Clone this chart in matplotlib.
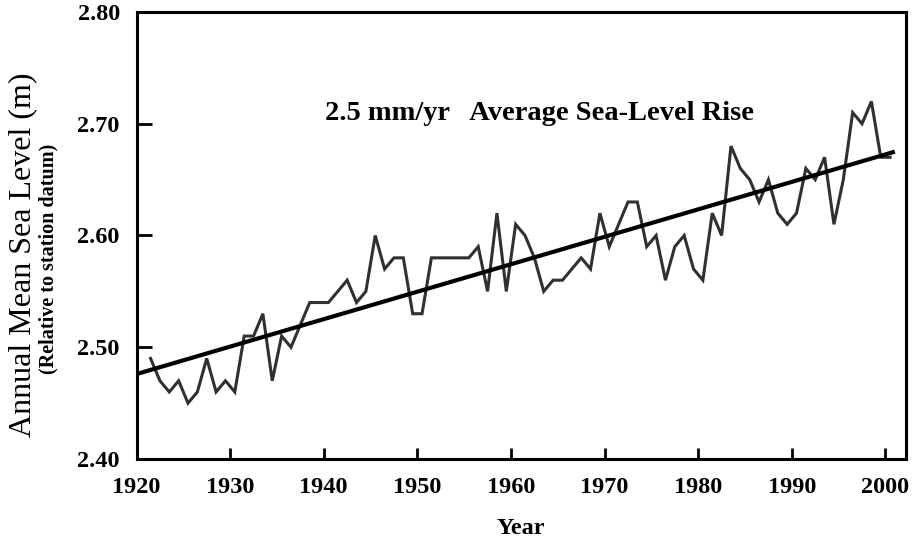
import matplotlib
matplotlib.use("Agg")
import matplotlib.pyplot as plt
import numpy as np

# annual mean sea level
years = np.arange(1921, 2001)
sea_level = [
	2.49, 2.47, 2.46, 2.47, 2.45, 2.46, 2.49, 2.46, 2.47, 2.46,  # 1921-1930
	2.51, 2.51, 2.53, 2.47, 2.51, 2.50, 2.52, 2.54, 2.54, 2.54,  # 1931-1940
	2.55, 2.56, 2.54, 2.55, 2.60, 2.57, 2.58, 2.58, 2.53, 2.53,  # 1941-1950
	2.58, 2.58, 2.58, 2.58, 2.58, 2.59, 2.55, 2.62, 2.55, 2.61,  # 1951-1960
	2.60, 2.58, 2.55, 2.56, 2.56, 2.57, 2.58, 2.57, 2.62, 2.59,  # 1961-1970
	2.61, 2.63, 2.63, 2.59, 2.60, 2.56, 2.59, 2.60, 2.57, 2.56,  # 1971-1980
	2.62, 2.60, 2.68, 2.66, 2.65, 2.63, 2.65, 2.62, 2.61, 2.62,  # 1981-1990
	2.66, 2.65, 2.67, 2.61, 2.65, 2.71, 2.70, 2.72, 2.67, 2.67,  # 1991-2000
]

# linear trend (end points)
trend_years = [1920, 2001]
trend_level = [2.476, 2.675]

x_ticks = np.arange(1920, 2001, 10)
y_ticks = [2.40, 2.50, 2.60, 2.70, 2.80]

plt.rcParams["font.family"] = ["Liberation Serif", "DejaVu Serif"]

fig = plt.figure(figsize=(9.15, 5.4), dpi=100)
ax = fig.add_axes([0.1492, 0.15, 0.841, 0.8278])

# annual means plotted at mid-year
ax.plot(years + 0.5, sea_level, color="#303030", lw=2.2, solid_joinstyle="miter")
ax.plot(trend_years, trend_level, color="black", lw=3.0, solid_capstyle="butt")

ax.text(1940.1, 2.709, "2.5 mm/yr   Average Sea-Level Rise",
	fontsize=20.5, fontweight="bold", ha="left", va="center")

ax.set_xlim(1920, 2002.2)
ax.set_ylim(2.40, 2.80)
ax.set_xticks(x_ticks)
ax.set_yticks(y_ticks)
ax.set_yticklabels([f"{v:.2f}" for v in y_ticks])

for lab in ax.get_xticklabels() + ax.get_yticklabels():
	lab.set_fontweight("bold")
ax.tick_params(axis="both", direction="in", labelsize=17.5, width=2)
ax.tick_params(axis="x", length=8, pad=13)
ax.tick_params(axis="y", length=11, pad=12)

for side in ["left", "bottom", "top", "right"]:
	ax.spines[side].set_linewidth(2.2)

ax.set_xlabel("Year", fontsize=17.5, fontweight="bold", labelpad=14)

fig.text(0.025, 0.528, "Annual Mean Sea Level (m)", rotation=90,
	fontsize=23, ha="center", va="center")
fig.text(0.053, 0.52, "(Relative to station datum)", rotation=90,
	fontsize=14.5, fontweight="bold", ha="center", va="center")

fig.savefig("out.png", dpi=100)
